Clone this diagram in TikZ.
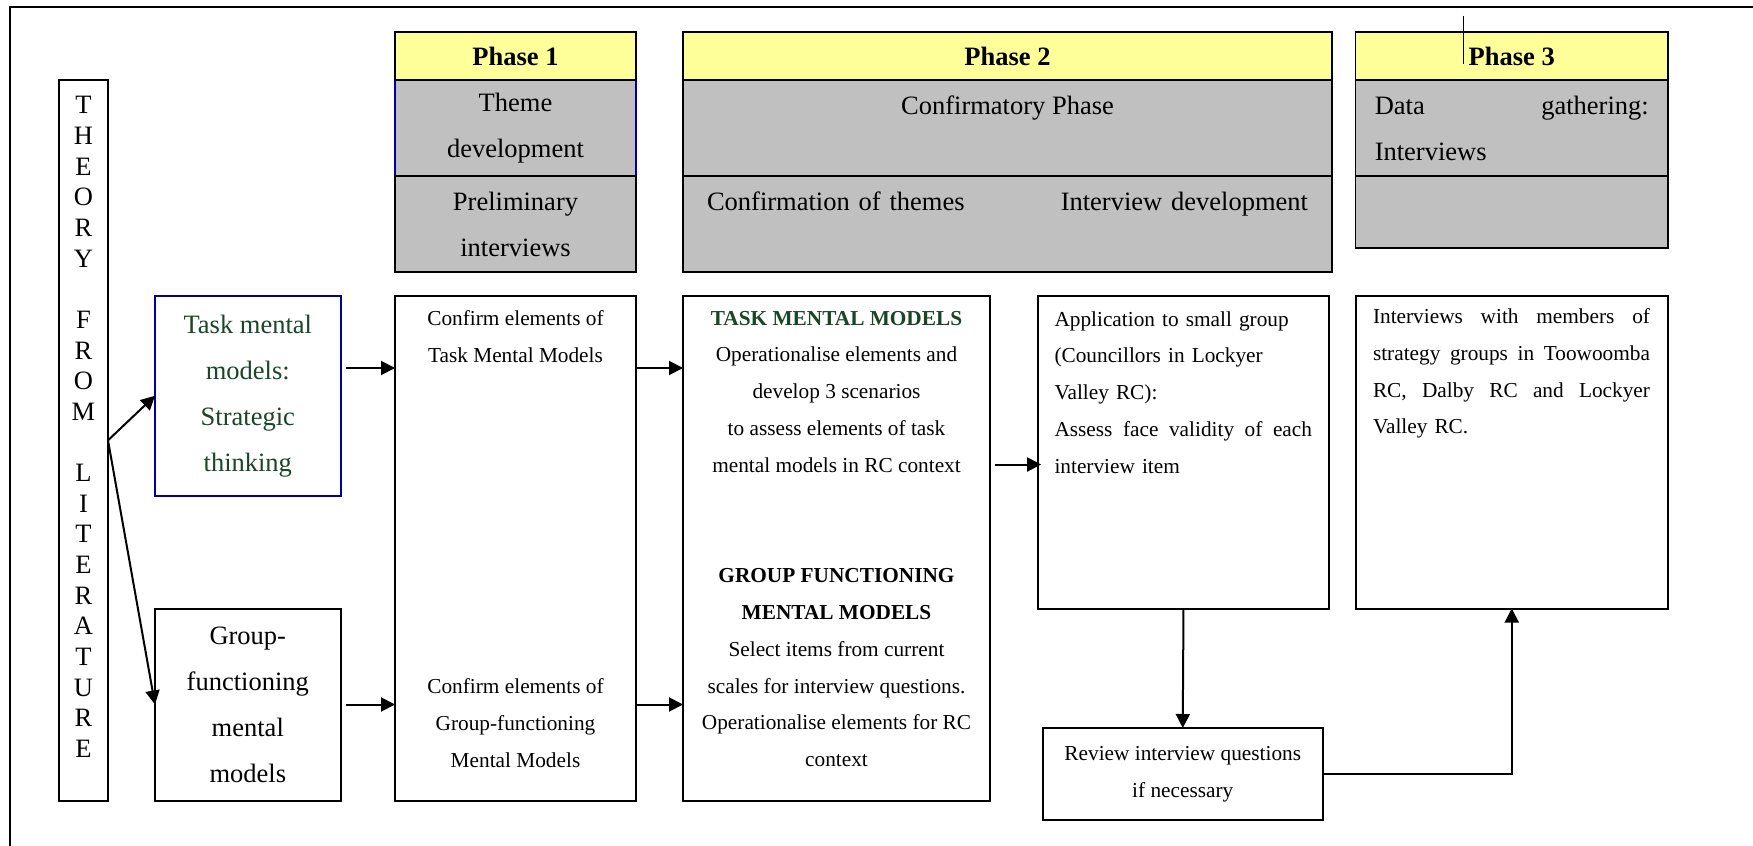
\documentclass[tikz,border=0pt]{standalone}
\usepackage{fontspec}
\setmainfont{Liberation Serif}
\usetikzlibrary{arrows.meta,positioning}

\definecolor{headyellow}{RGB}{255,255,153}
\definecolor{cellgray}{RGB}{192,192,192}
\definecolor{boxblue}{RGB}{0,0,153}
\definecolor{taskgreen}{RGB}{25,70,40}

\newcommand{\bigtxt}{\fontsize{13.25}{23}\selectfont}
\newcommand{\smalltxt}{\fontsize{10.65}{18.4}\selectfont}

\begin{document}
\begin{tikzpicture}[x=0.5pt, y=-0.5pt,
    head/.style={draw, fill=headyellow, line width=0.8pt, outer sep=0pt, minimum height=24pt, font=\bigtxt\bfseries},
    cell/.style={draw, fill=cellgray, line width=0.8pt, outer sep=0pt, minimum height=48pt, align=center, font=\bigtxt},
    box/.style={draw, line width=1pt, outer sep=0pt, align=center},
    flow/.style={-{Triangle[length=7pt,width=7pt]}, line width=1pt}]
    \useasboundingbox (0,0) rectangle (1753,846);
    \draw[line width=1pt] (10,846) -- (10,7) -- (1753,7);

    % phase header rows
    \node (p1theme) [cell, draw=boxblue, minimum width=120.5pt] at (515.5,128) {Theme\\development};
    \node (p1head) [head, minimum width=120.5pt, above=0pt of p1theme] {Phase 1};
    \node (p1prelim) [cell, minimum width=120.5pt, below=0pt of p1theme] {Preliminary\\interviews};

    \node (p2conf) [cell, minimum width=324.5pt] at (1007.5,128) {Confirmatory Phase\\\mbox{}};
    \node (p2head) [head, minimum width=324.5pt, above=0pt of p2conf] {Phase 2};
    \node (p2dev) [cell, minimum width=324.5pt, text width=300.5pt, align=left, below=0pt of p2conf] {Confirmation of themes\hfill Interview development\\\mbox{}};

    \node (p3data) [cell, minimum width=156.25pt, text width=137pt, align=left] at (1511.75,128) {Data\hfill gathering:\\Interviews};
    \node (p3head) [head, minimum width=156.25pt, above=0pt of p3data] {Phase 3};
    \node (p3empty) [cell, minimum width=156.25pt, minimum height=36pt, below=0pt of p3data] {};
    \draw[line width=0.5pt] ([xshift=-23.9pt, yshift=8.2pt]p3head.north) -- ++(0,-24.3pt);

    % theory column
    \node (theory) [box, minimum width=24.5pt, minimum height=360.3pt] at (83.5,440.3) {};
    \node (theorytext) [font=\fontsize{13.25}{15.33}\selectfont, align=center, inner sep=0pt] at (83.5,427) {T\\H\\E\\O\\R\\Y\\[15.33pt]F\\R\\O\\M\\[15.33pt]L\\I\\T\\E\\R\\A\\T\\U\\R\\E};

    % mental model boxes
    \node (task) [box, draw=boxblue, text=taskgreen, font=\bigtxt, minimum width=92.8pt, minimum height=99.75pt] at (247.8,395.75) {Task mental\\models:\\Strategic\\thinking};
    \node (group) [box, font=\bigtxt, minimum width=92.8pt, minimum height=96pt] at (247.8,704.5) {Group-\\functioning\\mental\\models};

    % phase 1
    \node (confirm) [box, minimum width=120.5pt, minimum height=252.3pt] at (515.5,548.3) {};
    \node (confirmtask) [font=\smalltxt, align=center] at (515.5,336.5) {Confirm elements of\\Task Mental Models};
    \node (confirmgroup) [font=\smalltxt, align=center] at (515.5,723) {Confirm elements of\\Group-functioning\\Mental Models};

    % phase 2
    \node (scen) [box, minimum width=153.5pt, minimum height=252.3pt] at (836.5,548.3) {};
    \node (scentext) [font=\smalltxt, align=center] at (836.5,539) {\color{taskgreen}\textbf{TASK MENTAL MODELS}\\Operationalise elements and\\develop 3 scenarios\\to assess elements of task\\mental models in RC context\\[36.8pt]\color{black}\textbf{GROUP FUNCTIONING}\\\textbf{MENTAL MODELS}\\Select items from current\\scales for interview questions.\\Operationalise elements for RC\\context};

    \node (appl) [box, minimum width=145.95pt, minimum height=156.25pt] at (1183.5,452.25) {};
    \node (appltext) [font=\smalltxt, text width=128.75pt, align=left] at (1183.25,392.5) {Application to small group\\(Councillors in Lockyer\\Valley RC):\\Assess\hfill face\hfill validity\hfill of\hfill each\\interview item};
    \node (review) [box, font=\smalltxt, minimum width=140.25pt, minimum height=46.2pt] at (1182.75,774.2) {Review interview questions\\if necessary};

    % phase 3
    \node (p3box) [box, minimum width=156.25pt, minimum height=156.25pt] at (1511.75,452.25) {};
    \node (p3text) [font=\smalltxt, text width=138.5pt, align=left] at (1511.5,373.5) {Interviews\hfill with\hfill members\hfill of\\strategy\hfill groups\hfill in\hfill Toowoomba\\RC,\hfill Dalby\hfill RC\hfill and\hfill Lockyer\\Valley RC.};

    % connectors
    \coordinate (toprow) at (0,368);
    \coordinate (midrow) at (0,464.5);
    \draw[flow] (theory.east) -- (task.west);
    \draw[flow] (theory.east) -- (group.west);
    \draw[flow, shorten <=2.7pt] (task.east |- toprow) -- (confirm.west |- toprow);
    \draw[flow, shorten <=2.7pt] (group.east) -- (confirm.west |- group.east);
    \draw[flow] (confirm.east |- toprow) -- (scen.west |- toprow);
    \draw[flow] (confirm.east |- group.east) -- (scen.west |- group.east);
    \draw[flow, shorten <=2.4pt, shorten >=-1.8pt] (scen.east |- midrow) -- (appl.west |- midrow);
    \draw[flow] (appl.south) -- (review.north);
    \draw[flow] (review.east) -| (p3box.south);
\end{tikzpicture}
\end{document}
